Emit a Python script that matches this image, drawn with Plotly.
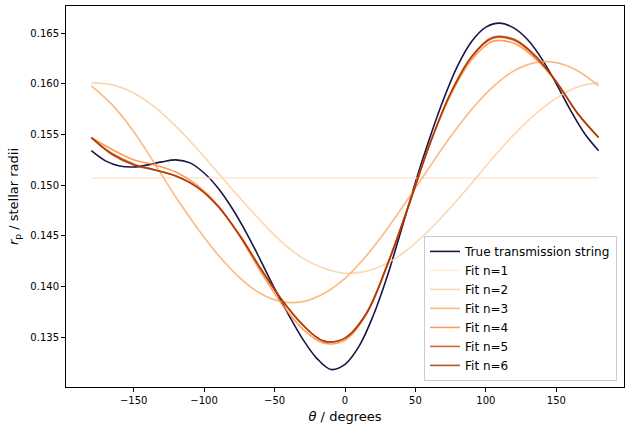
import plotly.graph_objects as go

theta_true = [-180, -170, -160, -150, -140, -130, -120, -110, -100, -90, -80, -70, -60,
              -50, -40, -30, -20, -10, 0, 10, 20, 30, 40, 50, 60, 70, 80, 90, 100,
              110, 120, 130, 140, 150, 160, 170, 180]

true_string = [0.1534, 0.1524, 0.1519, 0.1518, 0.1520, 0.1523, 0.1525, 0.1522, 0.1512,
               0.1497, 0.1477, 0.1453, 0.1426, 0.1398, 0.1372, 0.1348, 0.1329, 0.1318,
               0.1323, 0.1341, 0.1371, 0.1410, 0.1456, 0.1503, 0.1546, 0.1585, 0.1618,
               0.1642, 0.1656, 0.1660, 0.1655, 0.1643, 0.1624, 0.1600, 0.1574, 0.1551,
               0.1534]

theta_fit = [-180, -165, -150, -135, -120, -105, -90, -75, -60, -45, -30, -15, 0,
             15, 30, 45, 60, 75, 90, 105, 120, 135, 150, 165, 180]

fit_n1 = [0.1507] * 25

fit_n2 = [0.1601, 0.1599, 0.1591, 0.1577, 0.1558, 0.1536, 0.1512, 0.1488, 0.1465,
          0.1444, 0.1428, 0.1418, 0.1413, 0.1415, 0.1423, 0.1437, 0.1456, 0.1478,
          0.1502, 0.1527, 0.1550, 0.1570, 0.1586, 0.1597, 0.1601]

fit_n3 = [0.1598, 0.1579, 0.1553, 0.1521, 0.1488, 0.1458, 0.1431, 0.1409, 0.1393,
          0.1385, 0.1385, 0.1393, 0.1408, 0.1430, 0.1457, 0.1487, 0.1518, 0.1548,
          0.1575, 0.1597, 0.1613, 0.1621, 0.1621, 0.1613, 0.1598]

fit_n4 = [0.1547, 0.1535, 0.1525, 0.1520, 0.1513, 0.1500, 0.1480, 0.1450, 0.1415,
          0.1383, 0.1358, 0.1344, 0.1347, 0.1372, 0.1422, 0.1480, 0.1540, 0.1589,
          0.1624, 0.1642, 0.1640, 0.1625, 0.1602, 0.1571, 0.1547]

fit_n5 = [0.1547, 0.1531, 0.1521, 0.1515, 0.1509, 0.1498, 0.1479, 0.1451, 0.1418,
          0.1387, 0.1362, 0.1346, 0.1349, 0.1373, 0.1421, 0.1479, 0.1540, 0.1591,
          0.1627, 0.1645, 0.1643, 0.1627, 0.1602, 0.1571, 0.1547]

fit_n6 = [0.1547, 0.1530, 0.1520, 0.1515, 0.1509, 0.1498, 0.1479, 0.1451, 0.1418,
          0.1387, 0.1362, 0.1346, 0.1349, 0.1373, 0.1421, 0.1479, 0.1540, 0.1591,
          0.1627, 0.1646, 0.1644, 0.1628, 0.1602, 0.1571, 0.1547]

names = ["True transmission string", "Fit n=1", "Fit n=2", "Fit n=3",
         "Fit n=4", "Fit n=5", "Fit n=6"]
xs = [theta_true] + [theta_fit] * 6
series = [true_string, fit_n1, fit_n2, fit_n3, fit_n4, fit_n5, fit_n6]
colors = ["#1c1545", "#fee6ce", "#fdd0a2", "#fdae6b", "#fd8d3c", "#d94801", "#a63603"]

fig = go.Figure()
for name, xv, ys, col in zip(names, xs, series, colors):
    fig.add_trace(go.Scatter(
        x=xv, y=ys, mode="lines", name=name,
        line=dict(color=col, width=1.6, shape="spline", smoothing=1.0),
        opacity=0.85 if name != names[0] else 1.0,
    ))

axis_common = dict(
    showline=True, linecolor="black", linewidth=1, mirror=True,
    ticks="outside", ticklen=4, tickwidth=1, tickcolor="black",
    showgrid=False, zeroline=False,
    tickfont=dict(family="DejaVu Sans", size=10, color="black"),
)

fig.update_layout(
    width=630, height=432,
    margin=dict(l=66, r=6, t=6, b=45),
    paper_bgcolor="white", plot_bgcolor="white",
    font=dict(family="DejaVu Sans", color="black"),
    xaxis=dict(range=[-198, 198], tickmode="linear", tick0=-150, dtick=50,
               title=dict(text="<i>θ</i> / degrees", font=dict(size=13), standoff=6),
               **axis_common),
    yaxis=dict(range=[0.13007, 0.16769], tickmode="linear", tick0=0.135, dtick=0.005,
               tickformat=".3f",
               title=dict(text="<i>r</i><sub>p</sub> / stellar radii", font=dict(size=13), standoff=8),
               **axis_common),
    legend=dict(x=0.9875, y=0.016, xanchor="right", yanchor="bottom",
                bgcolor="rgba(255,255,255,0.8)", bordercolor="#cccccc", borderwidth=1,
                font=dict(family="DejaVu Sans", size=12, color="black"),
                tracegroupgap=0, itemwidth=30),
    showlegend=True,
)

fig.write_html("out.html")
